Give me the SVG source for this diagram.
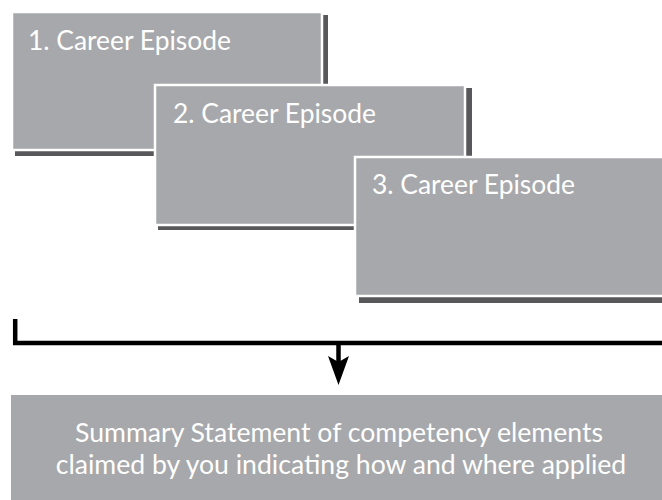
<svg xmlns="http://www.w3.org/2000/svg" width="662" height="500" viewBox="0 0 662 500">
<style>
.shadow{fill:#58585a;}
.box{fill:#a7a8ab;stroke:#ffffff;stroke-width:2.5;}
.lbl{font-family:Lato,"Liberation Sans",sans-serif;font-size:26.4px;fill:#ffffff;}
.sum{font-family:Lato,"Liberation Sans",sans-serif;font-size:26.6px;fill:#ffffff;text-anchor:middle;}
.conn{fill:none;stroke:#000000;stroke-width:4.5;}
</style>
<rect width="662" height="500" fill="#ffffff"/>
<g id="episode1">
<rect class="shadow" x="15" y="15" width="313" height="141"/>
<rect class="box" x="12" y="12" width="310" height="138"/>
<text class="lbl" x="28" y="50">1. Career Episode</text>
</g>
<g id="episode2">
<rect class="shadow" x="158" y="88" width="314" height="142"/>
<rect class="box" x="155" y="85" width="310" height="140"/>
<text class="lbl" x="173" y="123">2. Career Episode</text>
</g>
<g id="episode3">
<rect class="shadow" x="359" y="160" width="320" height="143"/>
<rect class="box" x="355" y="157" width="320" height="139"/>
<text class="lbl" x="372" y="194">3. Career Episode</text>
</g>
<g id="connectors">
<path class="conn" d="M15.2,319 V343 H670"/>
<path class="conn" d="M338.5,343 V362"/>
<polygon points="328,356 338.5,362 349,356 338.5,385" fill="#000000"/>
</g>
<g id="summary">
<rect x="11" y="395" width="660" height="110" fill="#a7a8ab"/>
<text class="sum" x="339" y="442">Summary Statement of competency elements</text>
<text class="sum" x="341" y="474">claimed by you indicating how and where applied</text>
</g>
</svg>
